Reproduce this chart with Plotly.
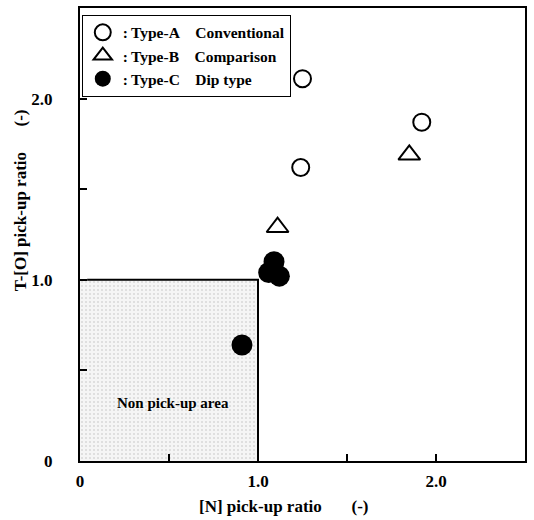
import plotly.graph_objects as go

# [N] pick-up ratio (x) and T-[O] pick-up ratio (y) per nozzle type
type_a_n = [1.25, 1.24, 1.92]
type_a_o = [2.11, 1.62, 1.87]

type_b_n = [1.11, 1.85]
type_b_o = [1.29, 1.69]

type_c_n = [0.91, 1.09, 1.06, 1.12]
type_c_o = [0.64, 1.10, 1.04, 1.02]

# boundary of the non pick-up region
limit_n = 1.0
limit_o = 1.0

tick_vals = [0, 0.5, 1.0, 1.5, 2.0]
tick_text = ["0", "", "1.0", "", "2.0"]

FONT = "Liberation Serif"

fig = go.Figure()

# shaded non pick-up area
fig.add_trace(go.Scatter(
    x=[0, limit_n, limit_n, 0, 0], y=[0, 0, limit_o, limit_o, 0],
    mode="none", fill="toself", fillcolor="#f3f3f3",
    fillpattern=dict(shape=".", fgcolor="#bdbdbd", bgcolor="#f5f5f5",
                     size=4, solidity=0.22),
    showlegend=False, hoverinfo="skip",
))
# boundary lines
fig.add_trace(go.Scatter(
    x=[0.04, limit_n, limit_n], y=[limit_o, limit_o, 0],
    mode="lines", line=dict(color="black", width=2),
    showlegend=False, hoverinfo="skip",
))

GAP = "&nbsp;" * 4
fig.add_trace(go.Scatter(
    x=type_a_n, y=type_a_o, mode="markers",
    name=":&#8201;Type-A" + GAP + "Conventional",
    marker=dict(symbol="circle-open", size=17, color="black",
                line=dict(width=2, color="black")),
))
fig.add_trace(go.Scatter(
    x=type_b_n, y=type_b_o, mode="markers",
    name=":&#8201;Type-B" + GAP + "Comparison",
    marker=dict(symbol="triangle-up-open", size=19, color="black",
                line=dict(width=2, color="black")),
))
fig.add_trace(go.Scatter(
    x=type_c_n, y=type_c_o, mode="markers",
    name=":&#8201;Type-C" + GAP + "Dip type",
    marker=dict(symbol="circle", size=21, color="black"),
))

title_font = dict(family=FONT, size=17, color="black", weight="bold")

fig.add_annotation(
    x=0.52, y=0.32, xref="x", yref="y", text="Non pick-up area",
    showarrow=False, font=dict(family=FONT, size=15, color="black", weight="bold"),
)

# axis titles placed at fixed pixel offsets around the plot area
plot_w = 534 - 80 - 9
plot_h = 520 - 6 - 59
fig.add_annotation(
    x=(284 - 80) / plot_w, y=(520 - 59 - 507) / plot_h,
    xref="paper", yref="paper", xanchor="center", yanchor="middle",
    text="[N] pick-up ratio&nbsp;&nbsp;&nbsp;&nbsp;&nbsp;&nbsp;&nbsp;(-)",
    showarrow=False, font=title_font,
)
fig.add_annotation(
    x=(20 - 80) / plot_w, y=(520 - 59 - 199) / plot_h,
    xref="paper", yref="paper", xanchor="center", yanchor="middle",
    textangle=-90,
    text="T-[O] pick-up ratio&nbsp;&nbsp;&nbsp;&nbsp;&nbsp;&nbsp;(-)",
    showarrow=False, font=title_font,
)

axis_common = dict(
    showline=True, mirror=True, linecolor="black", linewidth=2,
    ticks="inside", ticklen=7, tickwidth=2, tickcolor="black",
    tickvals=tick_vals, ticktext=tick_text, showgrid=False, zeroline=False,
    tickfont=dict(family=FONT, size=17, color="black", weight="bold"),
)

fig.update_layout(
    width=534, height=520,
    margin=dict(l=80, r=9, t=6, b=59),
    paper_bgcolor="white", plot_bgcolor="white",
    font=dict(family=FONT, size=15.5, color="black", weight="bold"),
    xaxis=dict(range=[0, 2.5], ticklabelstandoff=4, **axis_common),
    yaxis=dict(range=[0, 2.5], ticklabelstandoff=22, **axis_common),
    legend=dict(
        x=0.004, y=0.985, xanchor="left", yanchor="top",
        bgcolor="white", bordercolor="black", borderwidth=1,
        font=dict(family=FONT, size=15.5, color="black", weight="bold"),
        itemwidth=30, tracegroupgap=0,
    ),
    showlegend=True,
)

fig.write_html("out.html")
